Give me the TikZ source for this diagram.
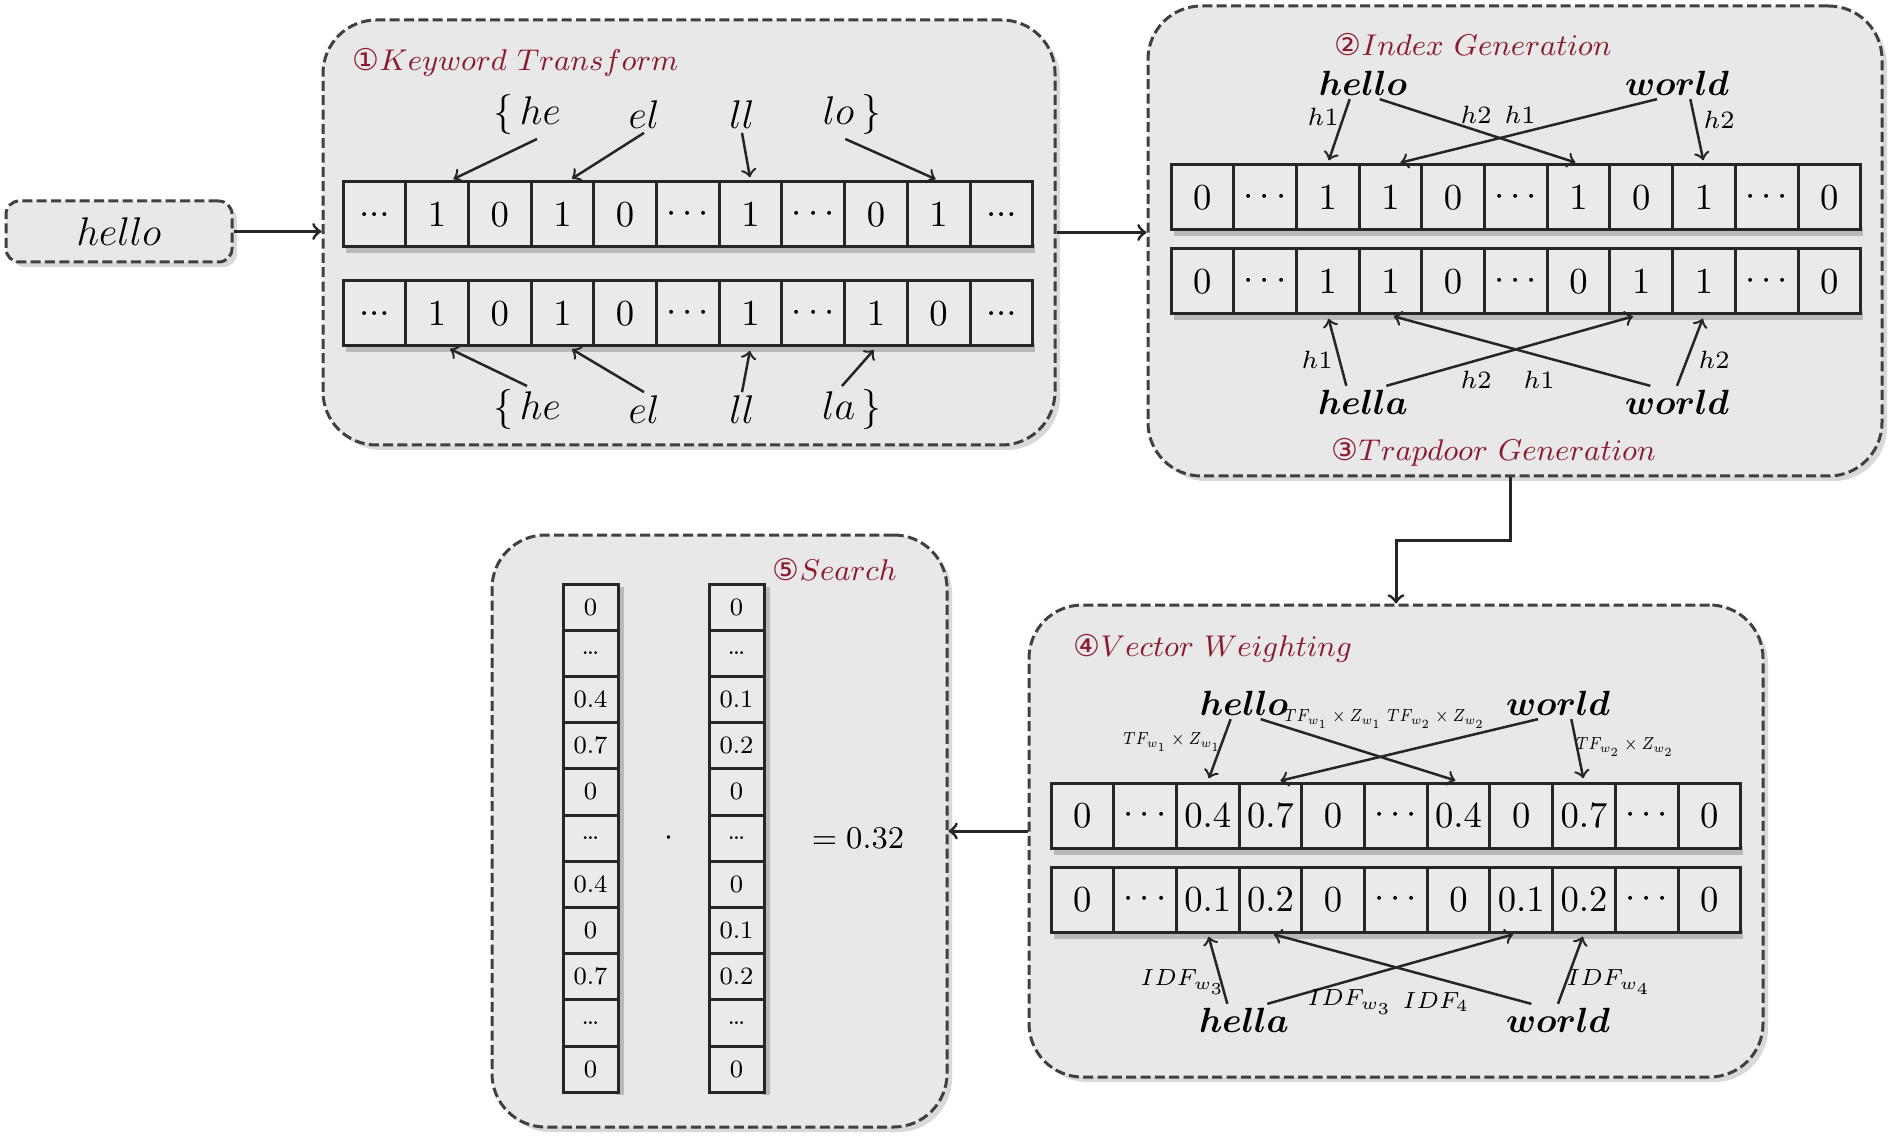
\RequirePackage{fix-cm}
\documentclass[tikz,border=0pt]{standalone}
\usepackage{fontspec}
\usepackage{bm}
\usepackage{graphicx}
\usetikzlibrary{shadows}
\newfontfamily\circfont{DejaVu Sans}

\definecolor{panel-fill}{HTML}{E8E8E8}
\definecolor{cell-fill}{HTML}{EAEAEA}
\definecolor{title-red}{HTML}{8B1A2E}

\tikzstyle{panel}=[draw=black!75, line width=0.9pt, dash pattern=on 3pt off 1.3pt, fill=panel-fill, rounded corners=16pt, drop shadow={shadow xshift=1.5pt, shadow yshift=-1.5pt, opacity=0.3}]
\tikzstyle{input-box}=[panel, rounded corners=4pt, minimum width=67.8pt, minimum height=18.3pt, font=\fontsize{12}{14}\selectfont]
\tikzstyle{bit-cell}=[draw=black!85, line width=0.9pt, fill=cell-fill, minimum width=18.81pt, minimum height=19.5pt, inner sep=0pt, font=\fontsize{11}{13}\selectfont]
\tikzstyle{val-cell}=[draw=black!85, line width=0.9pt, fill=cell-fill, minimum width=16.5pt, minimum height=13.86pt, inner sep=0pt, font=\fontsize{7.5}{9}\selectfont]
\tikzstyle{row-shadow}=[fill=black!45, opacity=0.5]
\tikzstyle{panel-title}=[anchor=west, text=title-red, font=\fontsize{9}{11}\selectfont, inner sep=0pt]
\tikzstyle{gram}=[font=\fontsize{12}{14}\selectfont, inner sep=1pt]
\tikzstyle{word}=[font=\fontsize{10.5}{12}\selectfont, inner sep=1pt]
\tikzstyle{hash-label}=[font=\fontsize{7.5}{9}\selectfont, inner sep=0pt]
\tikzstyle{weight-label}=[font=\fontsize{7}{8}\selectfont, inner sep=0pt]
\tikzstyle{idf-label}=[font=\fontsize{7}{8}\selectfont, inner sep=0pt]
\tikzstyle{link}=[->, line width=0.75pt, black!85, shorten >=1pt]
\tikzstyle{flow}=[->, line width=0.9pt, black!85]

\newcommand{\lowdots}{{.}{.}{.}}
\newcommand{\tfweight}[1]{\scalebox{0.65}[0.75]{$TF_{w_#1}\times Z_{w_#1}$}}
\newcommand{\bitrow}[4]{%
  \fill[row-shadow] (#2+3,#3+30) rectangle (#2+692,#3+39);
  \foreach \val [count=\i] in {#4}
    \node[bit-cell] (#1\i) at (#2+62.7*\i-31.35,#3) {$\val$};
}
\newcommand{\valcol}[4]{%
  \fill[row-shadow] (#2+25,#3+3) rectangle (#2+33,#3+511);
  \foreach \val [count=\i] in {#4}
    \node[val-cell] (#1\i) at (#2,#3+46.2*\i-23.1) {\val};
}

\begin{document}
\begin{tikzpicture}[x=0.3pt, y=-0.3pt]
  \useasboundingbox (0,0) rectangle (1899,1144);

  \node (input) at (119,231.5) [input-box] {$hello$};
  \node (panel1) at (689,232.5) [panel, minimum width=219.6pt, minimum height=127.5pt] {};
  \node (panel2) at (1515,241) [panel, minimum width=220.2pt, minimum height=141pt] {};
  \node (panel4) at (1396,841) [panel, minimum width=220.2pt, minimum height=141.6pt] {};
  \node (panel5) at (719.5,831) [panel, minimum width=136.5pt, minimum height=177.6pt] {};

  \node (title1) at (352,62) [panel-title] {{\circfont ①}$Keyword\ Transform$};
  \node (title2) at (1334,45) [panel-title] {{\circfont ②}$Index\ Generation$};
  \node (title3) at (1331,452) [panel-title] {{\circfont ③}$Trapdoor\ Generation$};
  \node (title4) at (1073,648) [panel-title] {{\circfont ④}$Vector\ Weighting$};
  \node (title5) at (772,570) [panel-title] {{\circfont ⑤}$Search$};

  \draw[flow] (input.east) -- (input.east -| panel1.west);
  \draw[flow] (panel1.east) -- (panel1.east -| panel2.west);
  \draw[flow] ([xshift=-1.5pt]panel2.south) -- ++(0,63) -| (panel4.north);
  \draw[flow] ([yshift=3pt]panel4.west) -- ([yshift=3pt]panel4.west -| panel5.east);

  \bitrow{kta}{343}{214.5}{\lowdots,1,0,1,0,\cdots,1,\cdots,0,1,\lowdots}
  \bitrow{ktb}{343}{313.5}{\lowdots,1,0,1,0,\cdots,1,\cdots,1,0,\lowdots}

  \node (he-top) at (527,115) [gram] {$\{\,he$};
  \node (el-top) at (644,115) [gram] {$el$};
  \node (ll-top) at (742,115) [gram] {$ll$};
  \node (lo-top) at (852,115) [gram] {$lo\,\}$};
  \node (he-bot) at (527,410) [gram] {$\{\,he$};
  \node (el-bot) at (644,410) [gram] {$el$};
  \node (ll-bot) at (742,410) [gram] {$ll$};
  \node (la-bot) at (852,410) [gram] {$la\,\}$};

  \draw[link] ([xshift=3pt]he-top.south) -- ([xshift=4pt]kta2.north);
  \draw[link] (el-top.south) -- ([xshift=2pt]kta4.north);
  \draw[link] (ll-top.south) -- (kta7.north);
  \draw[link] ([xshift=-2pt]lo-top.south) -- (kta10.north);
  \draw[link] (he-bot.north) -- ([xshift=3pt]ktb2.south);
  \draw[link] (el-bot.north) -- ([xshift=2pt]ktb4.south);
  \draw[link] (ll-bot.north) -- (ktb7.south);
  \draw[link] ([xshift=-3pt]la-bot.north) -- (ktb9.south);

  \bitrow{iga}{1171}{197.5}{0,\cdots,1,1,0,\cdots,1,0,1,\cdots,0}
  \bitrow{igb}{1171}{281.5}{0,\cdots,1,1,0,\cdots,0,1,1,\cdots,0}

  \node (ig-hello) at (1363,83) [word] {$\bm{hello}$};
  \node (ig-world) at (1677,83) [word] {$\bm{world}$};
  \node (ig-hella) at (1363,402) [word] {$\bm{hella}$};
  \node (ig-world2) at (1677,402) [word] {$\bm{world}$};

  \draw[link] ([xshift=-4pt]ig-hello.south) -- (iga3.north);
  \draw[link] ([xshift=5pt]ig-hello.south) -- (iga7.north);
  \draw[link] ([xshift=-6pt]ig-world.south) -- ([xshift=2pt]iga4.north);
  \draw[link] ([xshift=4pt]ig-world.south) -- (iga9.north);
  \draw[link] ([xshift=-5pt]ig-hella.north) -- (igb3.south);
  \draw[link] ([xshift=7pt]ig-hella.north) -- ([xshift=-1.5pt]igb8.south);
  \draw[link] ([xshift=-8pt]ig-world2.north) -- (igb4.south);
  \draw[link] (ig-world2.north) -- (igb9.south);

  \node (ig-h1a) at (1323,117) [hash-label] {$h1$};
  \node (ig-h2a) at (1476,115) [hash-label] {$h2$};
  \node (ig-h1b) at (1520,115) [hash-label] {$h1$};
  \node (ig-h2b) at (1719,120) [hash-label] {$h2$};
  \node (ig-h1c) at (1317,360) [hash-label] {$h1$};
  \node (ig-h2c) at (1476,380) [hash-label] {$h2$};
  \node (ig-h1d) at (1539,380) [hash-label] {$h1$};
  \node (ig-h2d) at (1714,360) [hash-label] {$h2$};

  \bitrow{vwa}{1051}{815.5}{0,\cdots,0.4,0.7,0,\cdots,0.4,0,0.7,\cdots,0}
  \bitrow{vwb}{1051}{899.5}{0,\cdots,0.1,0.2,0,\cdots,0,0.1,0.2,\cdots,0}

  \node (vw-hello) at (1244,703) [word] {$\bm{hello}$};
  \node (vw-world) at (1558,703) [word] {$\bm{world}$};
  \node (vw-hella) at (1244,1020) [word] {$\bm{hella}$};
  \node (vw-world2) at (1558,1020) [word] {$\bm{world}$};

  \draw[link] ([xshift=-4pt]vw-hello.south) -- (vwa3.north);
  \draw[link] ([xshift=5pt]vw-hello.south) -- (vwa7.north);
  \draw[link] ([xshift=-6pt]vw-world.south) -- ([xshift=2pt]vwa4.north);
  \draw[link] ([xshift=4pt]vw-world.south) -- (vwa9.north);
  \draw[link] ([xshift=-5pt]vw-hella.north) -- (vwb3.south);
  \draw[link] ([xshift=7pt]vw-hella.north) -- ([xshift=-1.5pt]vwb8.south);
  \draw[link] ([xshift=-8pt]vw-world2.north) -- (vwb4.south);
  \draw[link] (vw-world2.north) -- (vwb9.south);

  \node (vw-tf1a) at (1172,742) [weight-label] {\tfweight{1}};
  \node (vw-tf1b) at (1333,719) [weight-label] {\tfweight{1}};
  \node (vw-tf2a) at (1436,719) [weight-label] {\tfweight{2}};
  \node (vw-tf2b) at (1625,747) [weight-label] {\tfweight{2}};
  \node (vw-idf3a) at (1183,982) [idf-label] {$IDF_{w_3}$};
  \node (vw-idf3b) at (1350,1002) [idf-label] {$IDF_{w_3}$};
  \node (vw-idf4a) at (1436,1002) [idf-label] {$IDF_4$};
  \node (vw-idf4b) at (1609,982) [idf-label] {$IDF_{w_4}$};

  \valcol{sea}{590.5}{584}{0,\dots,0.4,0.7,0,\dots,0.4,0,0.7,\dots,0}
  \valcol{seb}{736.5}{584}{0,\dots,0.1,0.2,0,\dots,0,0.1,0.2,\dots,0}

  \node (dot) at (669,838) [font=\fontsize{9.5}{11}\selectfont] {$\cdot$};
  \node (score) at (858,838) [font=\fontsize{9.5}{11}\selectfont] {$= 0.32$};
\end{tikzpicture}
\end{document}
